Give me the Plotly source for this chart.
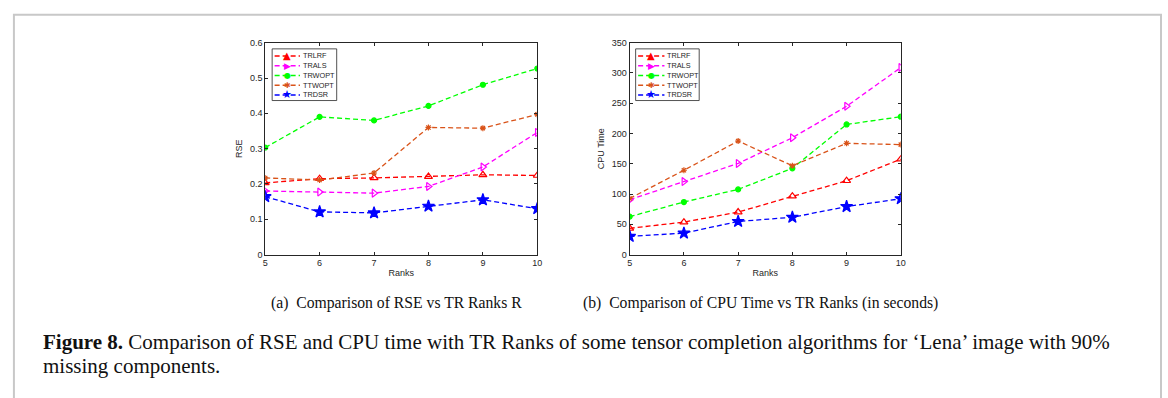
import plotly.graph_objects as go

W, H = 1168, 398

ranks = [5, 6, 7, 8, 9, 10]
methods = ["TRLRF", "TRALS", "TRWOPT", "TTWOPT", "TRDSR"]

rse_trlrf = [0.203, 0.215, 0.217, 0.221, 0.226, 0.224]
rse_trals = [0.180, 0.177, 0.174, 0.193, 0.248, 0.346]
rse_trwopt = [0.303, 0.390, 0.380, 0.421, 0.481, 0.527]
rse_ttwopt = [0.217, 0.211, 0.231, 0.360, 0.358, 0.397]
rse_trdsr = [0.164, 0.121, 0.118, 0.137, 0.155, 0.130]

cpu_trlrf = [43.4, 53.6, 70.2, 96.5, 122.0, 157.6]
cpu_trals = [90.6, 120.6, 150.6, 193.0, 245.0, 309.0]
cpu_trwopt = [62.7, 86.8, 107.7, 142.5, 215.0, 227.8]
cpu_ttwopt = [92.7, 139.3, 187.6, 146.8, 183.8, 181.7]
cpu_trdsr = [30.0, 35.4, 54.7, 61.6, 79.3, 92.2]

rse_ticks = [0, 0.1, 0.2, 0.3, 0.4, 0.5, 0.6]
cpu_ticks = [0, 50, 100, 150, 200, 250, 300, 350]

colors = {"TRLRF": "#FF0000", "TRALS": "#FF00FF", "TRWOPT": "#00FF00",
          "TTWOPT": "#D95319", "TRDSR": "#0000FF"}
symbols = {"TRLRF": "triangle-up-open", "TRALS": "triangle-right-open",
           "TRWOPT": "circle", "TTWOPT": "asterisk-open", "TRDSR": "star"}
msizes = {"TRLRF": 7, "TRALS": 7, "TRWOPT": 5, "TTWOPT": 5, "TRDSR": 9}
glyphs = {"TRLRF": "▲", "TRALS": "▶", "TRWOPT": "●", "TTWOPT": "✱", "TRDSR": "★"}
gsizes = {"TRLRF": 10, "TRALS": 9, "TRWOPT": 8, "TTWOPT": 8, "TRDSR": 11}

rse_data = [rse_trlrf, rse_trals, rse_trwopt, rse_ttwopt, rse_trdsr]
cpu_data = [cpu_trlrf, cpu_trals, cpu_trwopt, cpu_ttwopt, cpu_trdsr]

fig = go.Figure()

def add_series(data, xa, ya):
    for name, vals in zip(methods, data):
        c = colors[name]
        fig.add_trace(go.Scatter(
            x=ranks, y=vals, mode="lines+markers", name=name,
            xaxis=xa, yaxis=ya, showlegend=False,
            line=dict(color=c, width=1.3, dash="5px,3px"),
            marker=dict(symbol=symbols[name], size=msizes[name], color=c,
                        line=dict(color=c, width=1.2)),
        ))

add_series(rse_data, "x", "y")
add_series(cpu_data, "x2", "y2")

def px(v):
    return v / W

def py(v):
    return 1 - v / H

ydom = [py(256), py(38.7)]
tickfont = dict(family="Liberation Sans, Arial, sans-serif", size=9, color="#262626")
axcommon = dict(showline=True, linecolor="#262626", linewidth=1, mirror="ticks",
                ticks="inside", ticklen=3, tickcolor="#262626", showgrid=False,
                zeroline=False, tickfont=tickfont)

fig.update_layout(
    width=W, height=H, margin=dict(l=0, r=0, t=0, b=0),
    paper_bgcolor="white", plot_bgcolor="white", showlegend=False,
    xaxis=dict(domain=[px(264), px(538)], range=[5, 10], tickvals=ranks,
               title=dict(text="Ranks", font=tickfont, standoff=2), anchor="y", **axcommon),
    yaxis=dict(domain=ydom, range=[0, 0.6], tickvals=rse_ticks,
               ticktext=[f"{t:g}" for t in rse_ticks],
               title=dict(text="RSE", font=tickfont, standoff=5), anchor="x", **axcommon),
    xaxis2=dict(domain=[px(631), px(904)], range=[5, 10], tickvals=ranks,
                title=dict(text="Ranks", font=tickfont, standoff=2), anchor="y2", **axcommon),
    yaxis2=dict(domain=ydom, range=[0, 350], tickvals=cpu_ticks,
                title=dict(text="CPU Time", font=tickfont, standoff=5), anchor="x2", **axcommon),
)

shapes = []
annotations = []

# outer frame
shapes.append(dict(type="rect", xref="paper", yref="paper",
                   x0=px(11), x1=px(1166), y0=-0.2, y1=py(10),
                   line=dict(color="#c8c8c8", width=2), fillcolor="rgba(0,0,0,0)"))

# custom legends
def legend(box_x0, box_x1, line_x0, line_x1, mark_x, text_x):
    shapes.append(dict(type="rect", xref="paper", yref="paper",
                       x0=px(box_x0), x1=px(box_x1), y0=py(98), y1=py(45),
                       line=dict(color="#262626", width=0.8), fillcolor="white", layer="above"))
    for i, name in enumerate(methods):
        yc = 52.3 + 10 * i
        c = colors[name]
        shapes.append(dict(type="line", xref="paper", yref="paper",
                           x0=px(line_x0), x1=px(line_x1), y0=py(yc), y1=py(yc),
                           line=dict(color=c, width=1.3, dash="5px,3px"), layer="above"))
        annotations.append(dict(xref="paper", yref="paper", x=px(mark_x), y=py(yc),
                                text=glyphs[name], showarrow=False, xanchor="center",
                                yanchor="middle",
                                font=dict(family="DejaVu Sans", size=gsizes[name], color=c)))
        annotations.append(dict(xref="paper", yref="paper", x=px(text_x), y=py(yc),
                                text=name, showarrow=False, xanchor="left", yanchor="middle",
                                font=dict(family="Liberation Sans, Arial", size=7.3, color="#262626")))

legend(271, 336, 273.5, 299, 286, 300.5)
legend(637, 701, 639.5, 666, 652.5, 667)

serif = "Liberation Serif, Times New Roman, serif"
annotations.append(dict(xref="paper", yref="paper", x=px(268), y=py(306),
                        text="(a)  Comparison of RSE vs TR Ranks R", showarrow=False,
                        xanchor="left", yanchor="middle",
                        font=dict(family=serif, size=15.7, color="#111111")))
annotations.append(dict(xref="paper", yref="paper", x=px(582), y=py(306),
                        text="(b)  Comparison of CPU Time vs TR Ranks (in seconds)", showarrow=False,
                        xanchor="left", yanchor="middle",
                        font=dict(family=serif, size=15.7, color="#111111")))
annotations.append(dict(xref="paper", yref="paper", x=px(38), y=py(346),
                        text="<b>Figure 8.</b> Comparison of RSE and CPU time with TR Ranks of some tensor completion algorithms for ‘Lena’ image with 90%",
                        showarrow=False, xanchor="left", yanchor="middle",
                        font=dict(family=serif, size=21, color="#111111")))
annotations.append(dict(xref="paper", yref="paper", x=px(38), y=py(370),
                        text="missing components.",
                        showarrow=False, xanchor="left", yanchor="middle",
                        font=dict(family=serif, size=21, color="#111111")))

fig.update_layout(shapes=shapes, annotations=annotations)

fig.write_html("out.html")
